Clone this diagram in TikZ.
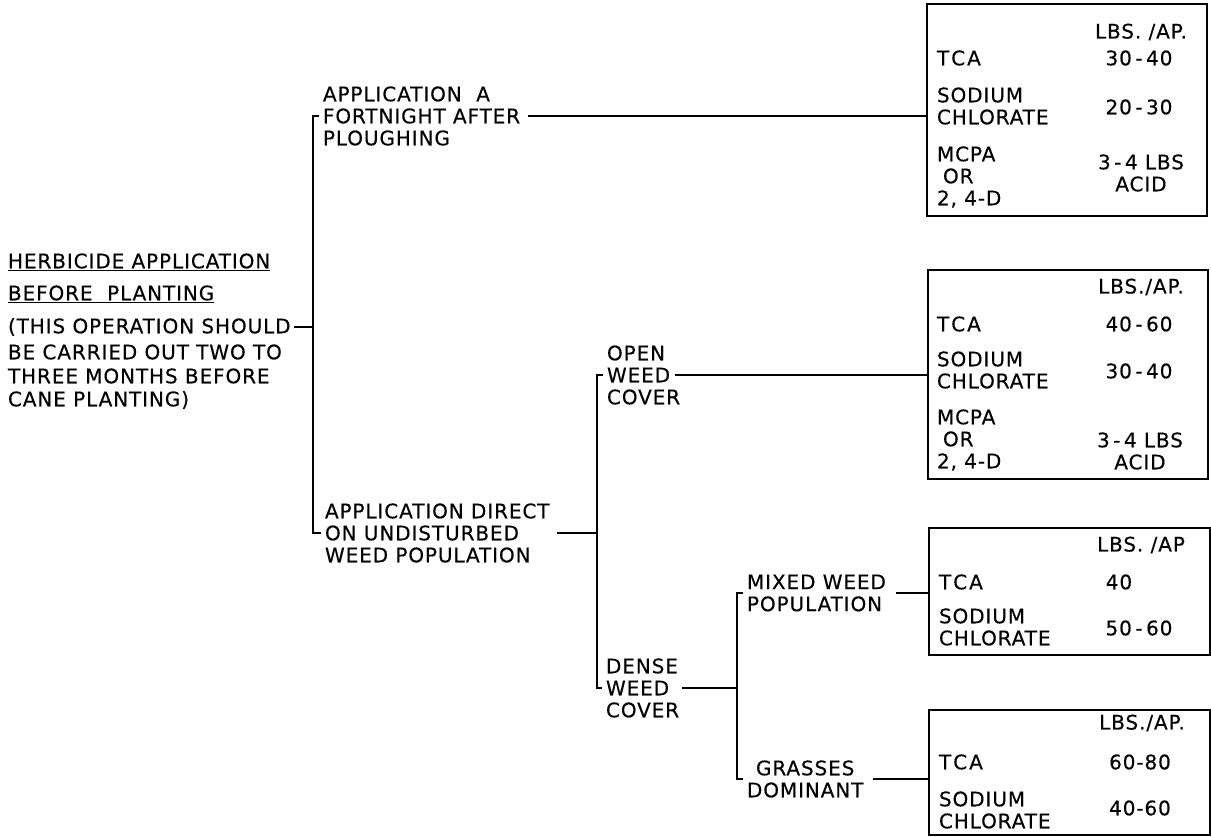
\documentclass[tikz,border=0pt]{standalone}
\usepackage{fontspec}
\setmainfont{DejaVu Sans}[LetterSpace=4.5, FakeBold=0.35]
\newcommand\lettering{\fontsize{20}{22}\selectfont}
\newcommand\dsh{\kern3.5pt-\kern3.5pt}
\tikzset{
  txt/.style={inner sep=0pt, outer sep=0pt, font=\lettering, align=left},
  txtc/.style={inner sep=0pt, outer sep=0pt, font=\lettering, align=center},
  tbox/.style={draw, line width=1.3pt, inner sep=0pt, outer sep=0pt},
  ln/.style={line width=1.3pt}
}
\begin{document}
\begin{tikzpicture}[x=1pt,y=-1pt]
\useasboundingbox (0,0) rectangle (1211,837);
% title block
\node[txt, anchor=west] (t1) at (8,261) {HERBICIDE APPLICATION};
\node[txt, anchor=west] (t2) at (8,293) {BEFORE\ \ PLANTING};
\node[txt, anchor=west] (t3) at (8,327) {(THIS OPERATION SHOULD};
\node[txt, anchor=west] (t4) at (8,352) {BE CARRIED OUT TWO TO};
\node[txt, anchor=west] (t5) at (8,376) {THREE MONTHS BEFORE};
\node[txt, anchor=west] (t6) at (8,400) {CANE PLANTING)};
\draw[line width=0.9pt] ([yshift=-2pt]t1.base west) -- ([yshift=-2pt]t1.base east);
\draw[line width=0.9pt] ([yshift=-2pt]t2.base west) -- ([yshift=-2pt]t2.base east);
% first level
\node[txt, anchor=west] (fort) at (323,116) {APPLICATION\ \ A\\FORTNIGHT AFTER\\PLOUGHING};
\node[txt, anchor=west] (direct) at (325,533) {APPLICATION DIRECT\\ON UNDISTURBED\\WEED POPULATION};
\coordinate (v1) at ([xshift=-10pt]fort.west);
\draw[ln] ([xshift=-4pt]fort.west) -- (v1) |- ([xshift=-4pt]direct.west);
\draw[ln] ([xshift=3pt]t3.east) -- (t3.east -| v1);
% second level
\node[txt, anchor=west] (open) at (607,375) {OPEN\\WEED\\COVER};
\node[txt, anchor=west] (dense) at (606,688) {DENSE\\WEED\\COVER};
\coordinate (v2) at ([xshift=-10pt]open.west);
\draw[ln] ([xshift=-4pt]open.west) -- (v2) |- ([xshift=-4pt]dense.west);
\draw[ln] ([xshift=7pt]direct.east) -- (direct.east -| v2);
% third level
\node[txt, anchor=west] (mixed) at (747,593) {MIXED WEED\\POPULATION};
\node[txtc, anchor=west] (grass) at (747,779) {GRASSES\\DOMINANT};
\coordinate (v3) at ([xshift=-10pt]mixed.west);
\draw[ln] ([xshift=-4pt]mixed.west) -- (v3) |- ([xshift=-4pt]grass.west);
\draw[ln] ([xshift=3pt]dense.east) -- (dense.east -| v3);
% boxes
\node[tbox, minimum width=280pt, minimum height=212pt] (box1) at (1067,110) {};
\node[tbox, minimum width=280pt, minimum height=209pt] (box2) at (1068,374.5) {};
\node[tbox, minimum width=281pt, minimum height=127pt] (box3) at (1069.5,591.5) {};
\node[tbox, minimum width=281pt, minimum height=125pt] (box4) at (1069.5,772.5) {};
\draw[ln] ([xshift=8pt]fort.east) -- (fort.east -| box1.west);
\draw[ln] ([xshift=-5pt]open.east |- open.center) -- (open.center -| box2.west);
\draw[ln] ([xshift=10pt]mixed.east) -- (mixed.east -| box3.west);
\draw[ln] ([xshift=10pt]grass.east) -- (grass.east -| box4.west);
% box 1 content
\node[txt] (b1h) at (1141,32) {LBS. /AP.};
\node[txt, anchor=west] (b1a) at (937,58) {T\kern2pt C\kern2pt A};
\node[txt] (b1av) at (1139,58) {30\dsh40};
\node[txt, anchor=west] (b1b) at (937,106) {SODIUM\\CHLORATE};
\node[txt] (b1bv) at (1139,107) {20\dsh30};
\node[txt, anchor=west] (b1c) at (937,177) {MCPA\\\hspace{6pt}OR\\2, 4-D};
\node[txtc] (b1cv) at (1141,173) {3\dsh4 LBS\\ACID};
% box 2 content
\node[txt] (b2h) at (1141,287) {LBS./AP.};
\node[txt, anchor=west] (b2a) at (937,324) {T\kern2pt C\kern2pt A};
\node[txt] (b2av) at (1139,324) {40\dsh60};
\node[txt, anchor=west] (b2b) at (937,370) {SODIUM\\CHLORATE};
\node[txt] (b2bv) at (1139,371) {30\dsh40};
\node[txt, anchor=west] (b2c) at (937,440) {MCPA\\\hspace{6pt}OR\\2, 4-D};
\node[txtc] (b2cv) at (1140,451) {3\dsh4 LBS\\ACID};
% box 3 content
\node[txt] (b3h) at (1141,545) {LBS. /AP};
\node[txt, anchor=west] (b3a) at (939,582) {T\kern2pt C\kern2pt A};
\node[txt] (b3av) at (1119,582) {40};
\node[txt, anchor=west] (b3b) at (939,627) {SODIUM\\CHLORATE};
\node[txt] (b3bv) at (1139,628) {50\dsh60};
% box 4 content
\node[txt] (b4h) at (1142,723) {LBS./AP.};
\node[txt, anchor=west] (b4a) at (939,762) {T\kern2pt C\kern2pt A};
\node[txt] (b4av) at (1140,762) {60-80};
\node[txt, anchor=west] (b4b) at (939,810) {SODIUM\\CHLORATE};
\node[txt] (b4bv) at (1140,808) {40-60};
\end{tikzpicture}
\end{document}
